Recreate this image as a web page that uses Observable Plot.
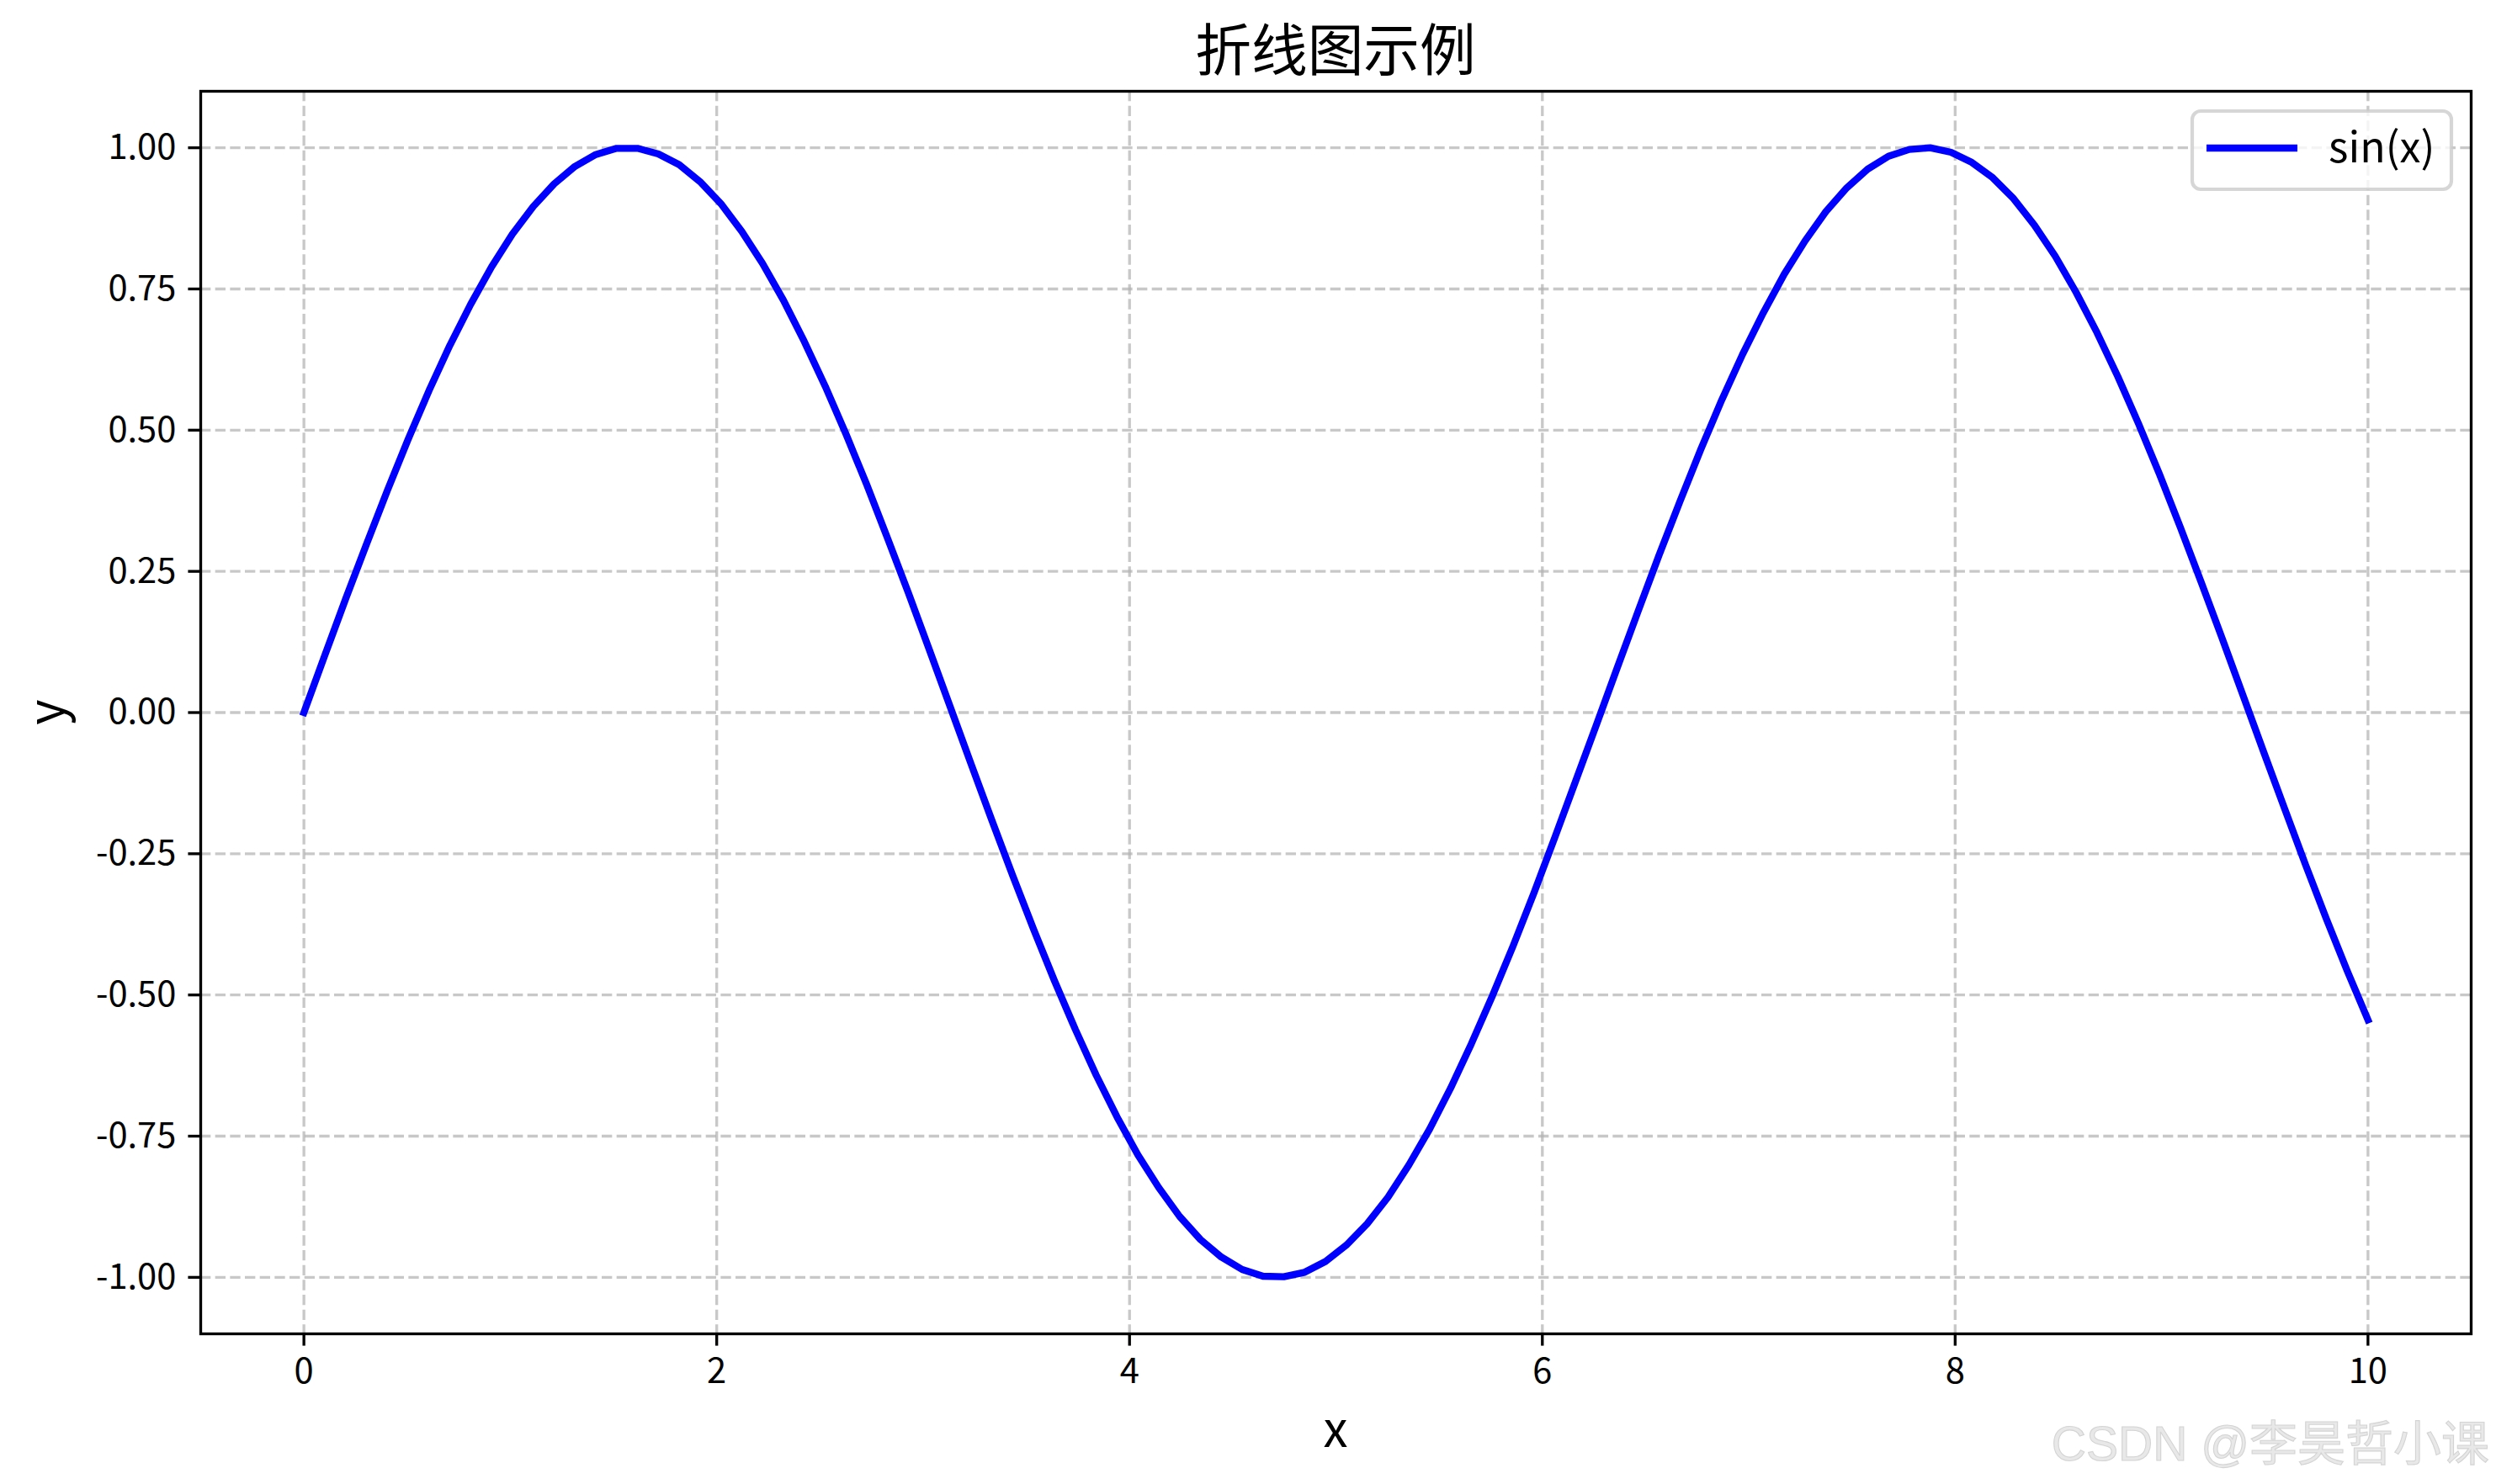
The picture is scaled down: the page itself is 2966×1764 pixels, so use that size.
<!DOCTYPE html>
<html>
<head>
<meta charset="utf-8">
<script src="https://cdn.jsdelivr.net/npm/d3@7"></script>
<script src="https://cdn.jsdelivr.net/npm/@observablehq/plot@0.6"></script>
<style>
  html, body { margin: 0; padding: 0; background: #fff; }
  #chart svg { display: block; }
</style>
</head>
<body>
<div id="chart"></div>
<script>
// ---- Data ----
const titleText = "折线图示例";
const seriesName = "sin(x)";
const xLabel = "x";
const yLabel = "y";
const watermark = "CSDN @李昊哲小课";

const xValues = [
  0.0000, 0.1010, 0.2020, 0.3030, 0.4040, 0.5051, 0.6061, 0.7071, 0.8081, 0.9091,
  1.0101, 1.1111, 1.2121, 1.3131, 1.4141, 1.5152, 1.6162, 1.7172, 1.8182, 1.9192,
  2.0202, 2.1212, 2.2222, 2.3232, 2.4242, 2.5253, 2.6263, 2.7273, 2.8283, 2.9293,
  3.0303, 3.1313, 3.2323, 3.3333, 3.4343, 3.5354, 3.6364, 3.7374, 3.8384, 3.9394,
  4.0404, 4.1414, 4.2424, 4.3434, 4.4444, 4.5455, 4.6465, 4.7475, 4.8485, 4.9495,
  5.0505, 5.1515, 5.2525, 5.3535, 5.4545, 5.5556, 5.6566, 5.7576, 5.8586, 5.9596,
  6.0606, 6.1616, 6.2626, 6.3636, 6.4646, 6.5657, 6.6667, 6.7677, 6.8687, 6.9697,
  7.0707, 7.1717, 7.2727, 7.3737, 7.4747, 7.5758, 7.6768, 7.7778, 7.8788, 7.9798,
  8.0808, 8.1818, 8.2828, 8.3838, 8.4848, 8.5859, 8.6869, 8.7879, 8.8889, 8.9899,
  9.0909, 9.1919, 9.2929, 9.3939, 9.4949, 9.5960, 9.6970, 9.7980, 9.8990, 10.0000
];
const yValues = [
  0.000, 0.101, 0.201, 0.298, 0.393, 0.484, 0.570, 0.650, 0.723, 0.789,
  0.847, 0.896, 0.936, 0.967, 0.988, 0.999, 0.999, 0.989, 0.970, 0.940,
  0.901, 0.852, 0.795, 0.730, 0.657, 0.578, 0.493, 0.403, 0.308, 0.211,
  0.111, 0.010, -0.091, -0.191, -0.289, -0.384, -0.475, -0.561, -0.642, -0.716,
  -0.783, -0.841, -0.892, -0.933, -0.964, -0.986, -0.998, -0.999, -0.991, -0.972,
  -0.943, -0.905, -0.858, -0.801, -0.737, -0.665, -0.586, -0.502, -0.413, -0.319,
  -0.221, -0.121, -0.021, 0.080, 0.180, 0.279, 0.374, 0.466, 0.553, 0.634,
  0.708, 0.776, 0.835, 0.887, 0.929, 0.962, 0.985, 0.997, 1.000, 0.992,
  0.974, 0.947, 0.910, 0.863, 0.808, 0.744, 0.673, 0.595, 0.511, 0.422,
  0.328, 0.231, 0.132, 0.031, -0.070, -0.170, -0.269, -0.365, -0.457, -0.544
];
const xTicks = [0, 2, 4, 6, 8, 10];
const yTicks = [-1.00, -0.75, -0.50, -0.25, 0.00, 0.25, 0.50, 0.75, 1.00];

// ---- Build table ----
const data = xValues.map((x, i) => ({x, y: yValues[i], series: seriesName}));

const W = 2966, H = 1764;
const mL = 238, mR = 30, mT = 108, mB = 179;
const font = "'Noto Sans CJK SC', 'Noto Sans', sans-serif";
const pt = 300 / 72; // px per point

const svg = Plot.plot({
  width: W,
  height: H,
  marginLeft: mL,
  marginRight: mR,
  marginTop: mT,
  marginBottom: mB,
  style: {fontFamily: font, fontSize: `${10 * pt}px`, color: "black", background: "white", overflow: "visible"},
  x: {domain: [-0.5, 10.5], label: null},
  y: {domain: [-1.1, 1.1], label: null},
  marks: [
    Plot.gridX(xTicks, {stroke: "#b0b0b0", strokeOpacity: 0.7, strokeWidth: 0.8 * pt, strokeDasharray: `${2.96 * pt},${1.28 * pt}`}),
    Plot.gridY(yTicks, {stroke: "#b0b0b0", strokeOpacity: 0.7, strokeWidth: 0.8 * pt, strokeDasharray: `${2.96 * pt},${1.28 * pt}`}),
    Plot.line(data, {x: "x", y: "y", stroke: "blue", strokeWidth: 2 * pt, strokeLinejoin: "round", strokeLinecap: "square"}),
    Plot.frame({stroke: "black", strokeWidth: 0.8 * pt}),
    Plot.axisX({ticks: xTicks, tickFormat: d => String(d), tickSize: 3.5 * pt, tickPadding: 3.5 * pt, strokeWidth: 0.8 * pt, fontSize: 10 * pt, fontFamily: font, label: null}),
    Plot.axisY({ticks: yTicks, tickFormat: d => d.toFixed(2), tickSize: 3.5 * pt, tickPadding: 3.5 * pt, strokeWidth: 0.8 * pt, fontSize: 10 * pt, fontFamily: font, label: null})
  ]
});

const s = d3.select(svg);
const cx = (mL + (W - mR)) / 2;
const cy = (mT + (H - mB)) / 2;

// Title
s.append("text").attr("x", cx).attr("y", 84).attr("text-anchor", "middle")
  .attr("font-family", font).attr("font-size", 16 * pt).attr("fill", "black").text(titleText);
// Axis labels
s.append("text").attr("x", cx).attr("y", 1720).attr("text-anchor", "middle")
  .attr("font-family", font).attr("font-size", 14 * pt).attr("fill", "black").text(xLabel);
s.append("text").attr("transform", `translate(76,${cy}) rotate(-90)`).attr("text-anchor", "middle")
  .attr("font-family", font).attr("font-size", 14 * pt).attr("fill", "black").text(yLabel);

// Legend
const lg = s.append("g");
lg.append("rect").attr("x", 2605).attr("y", 132).attr("width", 308).attr("height", 93)
  .attr("rx", 10).attr("ry", 10)
  .attr("fill", "white").attr("fill-opacity", 0.8)
  .attr("stroke", "#cccccc").attr("stroke-opacity", 0.8).attr("stroke-width", 1 * pt);
lg.append("line").attr("x1", 2622).attr("x2", 2730).attr("y1", 176).attr("y2", 176)
  .attr("stroke", "blue").attr("stroke-width", 2 * pt);
lg.append("text").attr("x", 2767).attr("y", 193).attr("text-anchor", "start").attr("font-family", font)
  .attr("font-size", 12 * pt).attr("fill", "black").text(seriesName);

// Watermark
s.append("text").attr("x", 2958).attr("y", 1736).attr("text-anchor", "end")
  .attr("font-family", "'Liberation Sans Narrow', 'Liberation Sans', 'Noto Sans CJK SC', sans-serif")
  .attr("font-size", 57).attr("fill", "#e8e8e8").attr("stroke", "#d4d4d4").attr("stroke-width", 1.1)
  .text(watermark);

document.getElementById("chart").appendChild(svg);
</script>
</body>
</html>
